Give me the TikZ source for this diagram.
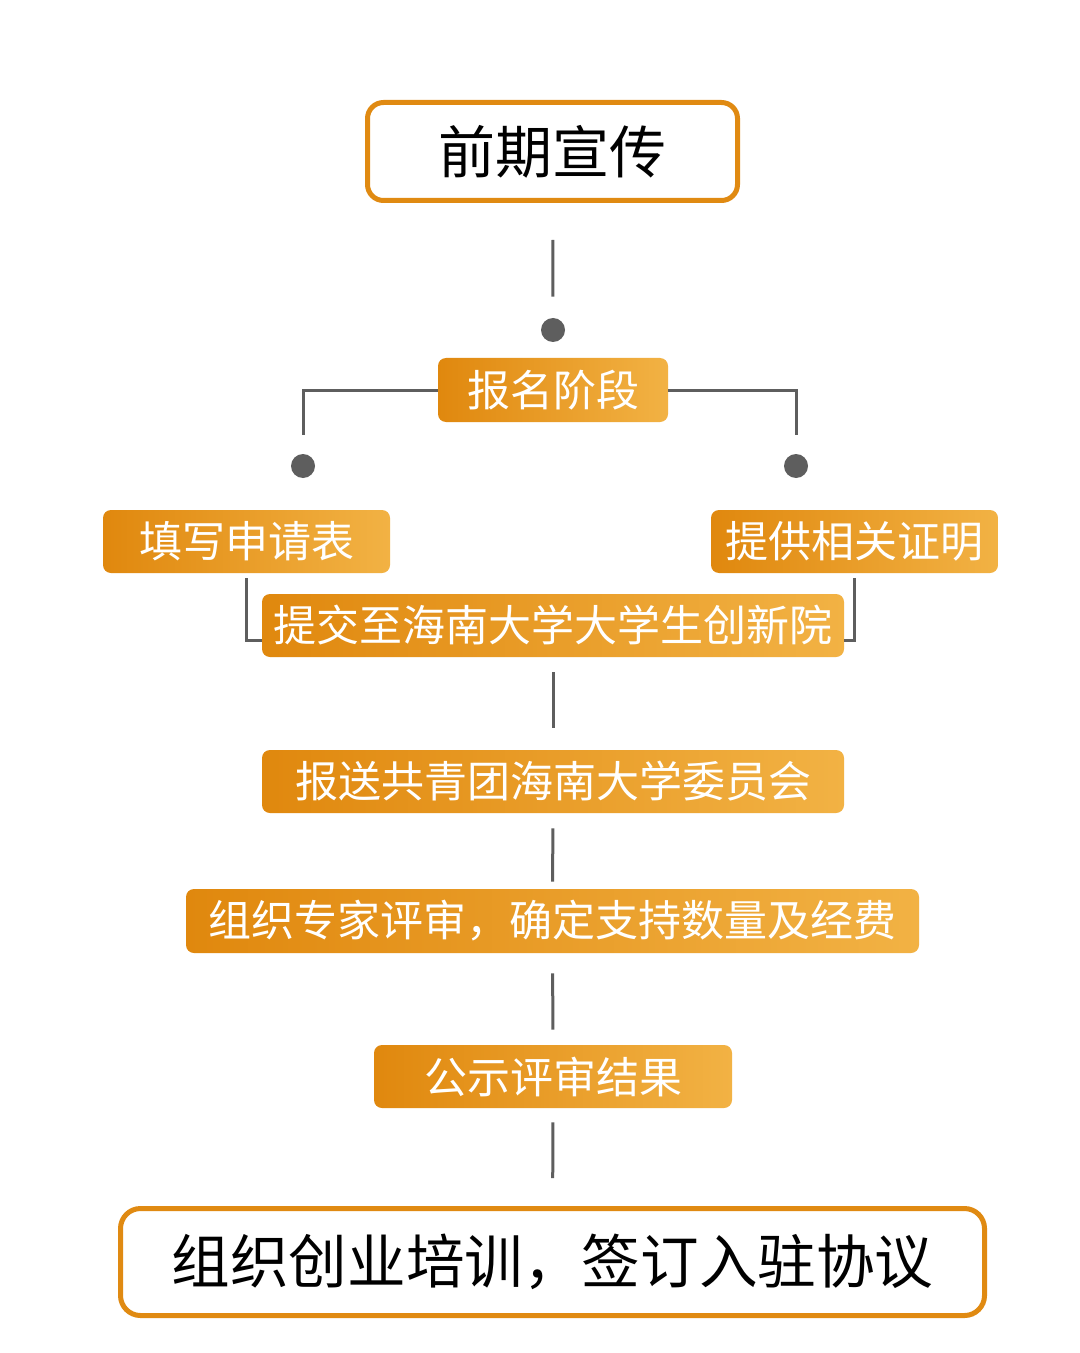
\documentclass[tikz,border=0pt]{standalone}
\usepackage{fontspec}
\setmainfont{Noto Sans CJK SC}
\definecolor{ocol}{HTML}{E08A12}
\definecolor{gl}{HTML}{E0880E}
\definecolor{gr}{HTML}{F2B244}
\definecolor{lgray}{HTML}{5E5E5E}
\begin{document}
\begin{tikzpicture}[x=0.5pt,y=-0.5pt,
  obox/.style={draw=ocol, line width=2.5pt, rounded corners=8pt, fill=white, inner sep=0pt, text=black},
  gbox/.style={left color=gl, right color=gr, draw=none, rounded corners=4pt, inner sep=0pt, text=white, font=\fontsize{21.5}{24}\selectfont, minimum height=31.5pt},
  conn/.style={draw=lgray, line width=1.5pt},
  dotc/.style={circle, fill=lgray, minimum size=12pt, inner sep=0pt}]
\useasboundingbox (0,0) rectangle (1080,1353);
\fill[white] (0,0) rectangle (1080,1353);

\node[obox, minimum width=185pt, minimum height=49pt, font=\fontsize{28.5}{30}\selectfont] (a) at (552.5,151.5) {前期宣传};
\node[dotc] (d1) at (553,330) {};
\node[gbox, minimum width=115pt, minimum height=32pt] (b) at (553,390) {报名阶段};
\node[dotc] (dl) at (303,466) {};
\node[dotc] (dr) at (796,466) {};
\node[gbox, minimum width=143.5pt] (c) at (246.5,541.5) {填写申请表};
\node[gbox, minimum width=143.5pt] (d) at (854.5,541.5) {提供相关证明};
\node[gbox, minimum width=291pt] (e) at (553,625.5) {提交至海南大学大学生创新院};
\node[gbox, minimum width=291pt] (f) at (553,781.5) {报送共青团海南大学委员会};
\node[gbox, minimum width=366.5pt, minimum height=32pt] (g) at (552.5,921) {组织专家评审，确定支持数量及经费};
\node[gbox, minimum width=179pt] (h) at (553,1076.5) {公示评审结果};
\node[obox, minimum width=432pt, minimum height=53.5pt, rounded corners=10pt, font=\fontsize{29.3}{31}\selectfont] (i) at (552.5,1262) {组织创业培训，签订入驻协议};

\draw[conn, shorten <=18.5pt, shorten >=10.5pt] (a) -- (d1);
\draw[conn, shorten >=9.5pt] (b.west) -| (dl);
\draw[conn, shorten >=9.5pt] (b.east) -| (dr);
\draw[conn, shorten <=2.5pt] (c.south) |- ([yshift=-7.25pt]e.west);
\draw[conn, shorten <=2.5pt] (d.south) |- ([yshift=-7.25pt]e.east);
\draw[conn, shorten <=7.5pt, shorten >=11pt] (e) -- (f);
\draw[conn, shorten <=7.5pt, shorten >=3.5pt] (f) -- (g);
\draw[conn, shorten <=10pt, shorten >=7.5pt] (g) -- (h);
\draw[conn, shorten <=7pt, shorten >=14pt] (h) -- (i);
\end{tikzpicture}
\end{document}
